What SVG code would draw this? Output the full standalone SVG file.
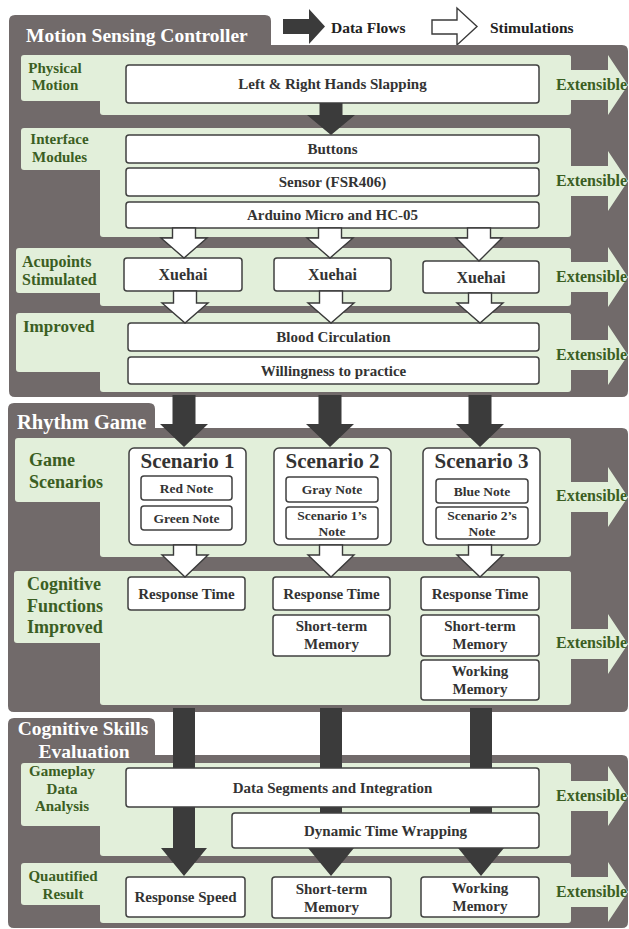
<svg xmlns="http://www.w3.org/2000/svg" width="629" height="929" viewBox="0 0 629 929">
<style>
.panel{fill:#716a6a}
.band{fill:#e2efda}
.box{fill:#fff;stroke:#404040;stroke-width:1.5}
.dark{fill:#3b3b3b}
.stim{fill:#fff;stroke:#3a3a3a;stroke-width:1.4;stroke-linejoin:miter}
text{font-family:"Liberation Serif","Times New Roman",serif;font-weight:bold}
.title{fill:#fff;font-size:19.5px}
.lbl{fill:#3b5e23;font-size:15px}
.lbl16{fill:#3b5e23;font-size:16px}
.lbl18{fill:#3b5e23;font-size:18px}
.ext{fill:#3b5e23;font-size:16px}
.bt{fill:#333;font-size:15px;text-anchor:middle}
.bt16{fill:#333;font-size:16px;text-anchor:middle}
.st{fill:#333;font-size:21px;text-anchor:middle}
.nt{fill:#333;font-size:13.5px;text-anchor:middle}
.leg{fill:#222;font-size:15.5px}
.mid{text-anchor:middle}
</style>

<!-- Legend -->
<g id="legend">
<polygon class="dark" points="283,19 309,19 309,9 325,26.5 309,44 309,34 283,34"/>
<text class="leg" x="331" y="33">Data Flows</text>
<polygon class="stim" points="432,20 457,20 457,8 477,26.5 457,45 457,34 432,34"/>
<text class="leg" x="490" y="33">Stimulations</text>
</g>

<!-- Panels -->
<g id="panel-motion">
<path class="panel" d="M9,21 Q9,15 15,15 L265,15 Q271,15 271,21 L271,45 L622,45 Q628,45 628,51 L628,391 Q628,397 622,397 L15,397 Q9,397 9,391 Z"/>
<text class="title" x="26" y="42">Motion Sensing Controller</text>
</g>
<g id="panel-rhythm">
<path class="panel" d="M8,409 Q8,403 14,403 L149,403 Q155,403 155,409 L155,428 L622,428 Q628,428 628,434 L628,706 Q628,712 622,712 L14,712 Q8,712 8,706 Z"/>
<text class="title" x="17" y="429" style="font-size:20.5px">Rhythm Game</text>
</g>
<g id="panel-eval">
<path class="panel" d="M8,724 Q8,718 14,718 L149,718 Q155,718 155,724 L155,755 L622,755 Q628,755 628,761 L628,922 Q628,928 622,928 L14,928 Q8,928 8,922 Z"/>
<text class="title mid" x="83" y="735">Cognitive Skills</text>
<text class="title mid" x="84" y="758">Evaluation</text>
</g>

<!-- Bands -->
<g id="band-physical">
<rect class="band" x="21" y="55" width="550" height="46" rx="3"/>
<rect class="band" x="100" y="55" width="471" height="60" rx="3"/>
<polygon class="band" points="565,70 608,70 608,55 628,85 608,115 608,100 565,100"/>
<text class="lbl mid" x="55" y="73">Physical</text>
<text class="lbl mid" x="55" y="90">Motion</text>
<text class="ext" x="556" y="90">Extensible</text>
</g>
<g id="band-interface">
<rect class="band" x="21" y="128" width="550" height="42" rx="3"/>
<rect class="band" x="100" y="128" width="471" height="109" rx="3"/>
<polygon class="band" points="565,166 608,166 608,151 628,181 608,211 608,196 565,196"/>
<text class="lbl mid" x="59.5" y="144">Interface</text>
<text class="lbl mid" x="59.5" y="162">Modules</text>
<text class="ext" x="556" y="186">Extensible</text>
</g>
<g id="band-acupoints">
<rect class="band" x="16" y="248" width="555" height="45" rx="3"/>
<rect class="band" x="100" y="248" width="471" height="58" rx="3"/>
<polygon class="band" points="565,262 608,262 608,247 628,277 608,307 608,292 565,292"/>
<text class="lbl16" x="22" y="267">Acupoints</text>
<text class="lbl16" x="22" y="285">Stimulated</text>
<text class="ext" x="556" y="282">Extensible</text>
</g>
<g id="band-improved">
<rect class="band" x="16" y="313" width="555" height="59" rx="3"/>
<rect class="band" x="100" y="313" width="471" height="79" rx="3"/>
<polygon class="band" points="565,340 608,340 608,325 628,355 608,385 608,370 565,370"/>
<text class="lbl18" x="23" y="332" style="font-size:17px">Improved</text>
<text class="ext" x="556" y="360">Extensible</text>
</g>
<g id="band-scenarios">
<rect class="band" x="15" y="438" width="556" height="64" rx="3"/>
<rect class="band" x="100" y="438" width="471" height="119" rx="3"/>
<polygon class="band" points="565,482 608,482 608,467 628,497 608,527 608,512 565,512"/>
<text class="lbl18" x="29" y="466">Game</text>
<text class="lbl18" x="29" y="488">Scenarios</text>
<text class="ext" x="556" y="501">Extensible</text>
</g>
<g id="band-cognitive">
<rect class="band" x="14" y="571" width="557" height="72" rx="3"/>
<rect class="band" x="100" y="571" width="471" height="134" rx="3"/>
<polygon class="band" points="565,629 608,629 608,614 628,644 608,674 608,659 565,659"/>
<text class="lbl18" x="27" y="590">Cognitive</text>
<text class="lbl18" x="27" y="612">Functions</text>
<text class="lbl18" x="27" y="633">Improved</text>
<text class="ext" x="556" y="648">Extensible</text>
</g>
<g id="band-gameplay">
<rect class="band" x="21" y="763" width="550" height="63" rx="3"/>
<rect class="band" x="100" y="763" width="471" height="93" rx="3"/>
<polygon class="band" points="565,781 608,781 608,766 628,796 608,826 608,811 565,811"/>
<text class="lbl mid" x="62" y="776">Gameplay</text>
<text class="lbl mid" x="62" y="794">Data</text>
<text class="lbl mid" x="62" y="811">Analysis</text>
<text class="ext" x="556" y="801">Extensible</text>
</g>
<g id="band-result">
<rect class="band" x="21" y="863" width="550" height="42" rx="3"/>
<rect class="band" x="100" y="863" width="471" height="60" rx="3"/>
<polygon class="band" points="565,877 608,877 608,862 628,892 608,922 608,907 565,907"/>
<text class="lbl mid" x="63" y="881">Quautified</text>
<text class="lbl mid" x="63" y="899">Result</text>
<text class="ext" x="556" y="897">Extensible</text>
</g>

<!-- Long data flow connectors (under boxes) -->
<g id="connectors-data">
<polygon class="dark" points="172.5,395 195.5,395 195.5,424 208,424 184,447 160,424 172.5,424"/>
<polygon class="dark" points="318.5,395 341.5,395 341.5,424 354,424 330,447 306,424 318.5,424"/>
<polygon class="dark" points="468.5,395 491.5,395 491.5,424 504,424 480,447 456,424 468.5,424"/>
<polygon class="dark" points="173,708 195,708 195,848 207,848 184,876 161,848 173,848"/>
<polygon class="dark" points="320,708 342,708 342,848 354,848 331,876 308,848 320,848"/>
<polygon class="dark" points="470,708 492,708 492,848 504,848 481,876 458,848 470,848"/>
</g>

<!-- Nodes -->
<g id="n-hands"><rect class="box" x="126" y="65" width="413" height="38" rx="3"/><text class="bt" x="332.5" y="89">Left &amp; Right Hands Slapping</text></g>
<g id="n-buttons"><rect class="box" x="126" y="135" width="413" height="28" rx="3"/><text class="bt" x="332.5" y="154">Buttons</text></g>
<g id="n-sensor"><rect class="box" x="126" y="168" width="413" height="28" rx="3"/><text class="bt" x="332.5" y="187">Sensor (FSR406)</text></g>
<g id="n-arduino"><rect class="box" x="126" y="202" width="413" height="26" rx="3"/><text class="bt" x="332.5" y="220">Arduino Micro and HC-05</text></g>

<g id="n-xuehai1"><rect class="box" x="124" y="258" width="118" height="33" rx="3"/><text class="bt16" x="183" y="280">Xuehai</text></g>
<g id="n-xuehai2"><rect class="box" x="274" y="258" width="117" height="33" rx="3"/><text class="bt16" x="332.5" y="280">Xuehai</text></g>
<g id="n-xuehai3"><rect class="box" x="423" y="261" width="116" height="32" rx="3"/><text class="bt16" x="481" y="283">Xuehai</text></g>

<g id="n-blood"><rect class="box" x="128" y="323" width="411" height="28" rx="3"/><text class="bt" x="333.5" y="342">Blood Circulation</text></g>
<g id="n-willing"><rect class="box" x="128" y="357" width="411" height="27" rx="3"/><text class="bt" x="333.5" y="375.5">Willingness to practice</text></g>

<g id="n-scenario1">
<rect class="box" x="129" y="448" width="117" height="97" rx="5"/>
<text class="st" x="187.5" y="468">Scenario 1</text>
<rect class="box" x="141" y="476" width="91" height="24" rx="3"/><text class="nt" x="186.5" y="492.5">Red Note</text>
<rect class="box" x="141" y="506" width="91" height="24" rx="3"/><text class="nt" x="186.5" y="522.5">Green Note</text>
</g>
<g id="n-scenario2">
<rect class="box" x="274" y="448" width="117" height="97" rx="5"/>
<text class="st" x="332.5" y="468">Scenario 2</text>
<rect class="box" x="286" y="477" width="92" height="25" rx="3"/><text class="nt" x="332" y="494">Gray Note</text>
<rect class="box" x="286" y="507" width="92" height="32" rx="3"/><text class="nt" x="332" y="520">Scenario 1’s</text><text class="nt" x="332" y="536">Note</text>
</g>
<g id="n-scenario3">
<rect class="box" x="423" y="448" width="117" height="97" rx="5"/>
<text class="st" x="481.5" y="468">Scenario 3</text>
<rect class="box" x="436" y="479" width="92" height="24" rx="3"/><text class="nt" x="482" y="495.5">Blue Note</text>
<rect class="box" x="436" y="507" width="92" height="32" rx="3"/><text class="nt" x="482" y="520">Scenario 2’s</text><text class="nt" x="482" y="536">Note</text>
</g>

<g id="n-rt1"><rect class="box" x="128" y="577" width="117" height="33" rx="3"/><text class="bt" x="186.5" y="598.5">Response Time</text></g>
<g id="n-rt2"><rect class="box" x="273" y="577" width="117" height="33" rx="3"/><text class="bt" x="331.5" y="598.5">Response Time</text></g>
<g id="n-rt3"><rect class="box" x="421" y="577" width="118" height="33" rx="3"/><text class="bt" x="480" y="598.5">Response Time</text></g>
<g id="n-stm2"><rect class="box" x="273" y="615" width="117" height="41" rx="3"/><text class="bt" x="331.5" y="631">Short-term</text><text class="bt" x="331.5" y="649">Memory</text></g>
<g id="n-stm3"><rect class="box" x="421" y="615" width="118" height="41" rx="3"/><text class="bt" x="480" y="631">Short-term</text><text class="bt" x="480" y="649">Memory</text></g>
<g id="n-wm3"><rect class="box" x="421" y="660" width="118" height="40" rx="3"/><text class="bt" x="480" y="676">Working</text><text class="bt" x="480" y="694">Memory</text></g>

<g id="n-segments"><rect class="box" x="126" y="768" width="413" height="39" rx="3"/><text class="bt" x="332.5" y="792.5">Data Segments and Integration</text></g>
<g id="n-dtw"><rect class="box" x="232" y="813" width="307" height="35" rx="3"/><text class="bt" x="385.5" y="835.5">Dynamic Time Wrapping</text></g>

<g id="n-speed"><rect class="box" x="126" y="877" width="119" height="40" rx="3"/><text class="bt" x="185.5" y="902">Response Speed</text></g>
<g id="n-stm-r"><rect class="box" x="272" y="877" width="119" height="41" rx="3"/><text class="bt" x="331.5" y="893.5">Short-term</text><text class="bt" x="331.5" y="911.5">Memory</text></g>
<g id="n-wm-r"><rect class="box" x="421" y="877" width="118" height="40" rx="3"/><text class="bt" x="480" y="893">Working</text><text class="bt" x="480" y="911">Memory</text></g>

<!-- Short connectors -->
<g id="connectors">
<polygon class="dark" points="319.5,103 342.5,103 342.5,115 355,115 331,135 307,115 319.5,115"/>
<polygon class="stim" points="172.5,228 172.5,238 161,238 184,258 207,238 195.5,238 195.5,228"/>
<polygon class="stim" points="318.5,228 318.5,238 307,238 330,258 353,238 341.5,238 341.5,228"/>
<polygon class="stim" points="467.5,228 467.5,238 456,238 479,261 502,238 490.5,238 490.5,228"/>
<polygon class="stim" points="173.5,291 173.5,303 162,303 185,323 208,303 196.5,303 196.5,291"/>
<polygon class="stim" points="319.5,291 319.5,303 308,303 331,323 354,303 342.5,303 342.5,291"/>
<polygon class="stim" points="468.5,293 468.5,303 457,303 480,323 503,303 491.5,303 491.5,293"/>
<polygon class="stim" points="173.5,545 173.5,555 162,555 185,577 208,555 196.5,555 196.5,545"/>
<polygon class="stim" points="319.5,545 319.5,555 308,555 331,577 354,555 342.5,555 342.5,545"/>
<polygon class="stim" points="468.5,545 468.5,555 457,555 480,577 503,555 491.5,555 491.5,545"/>
</g>
</svg>
